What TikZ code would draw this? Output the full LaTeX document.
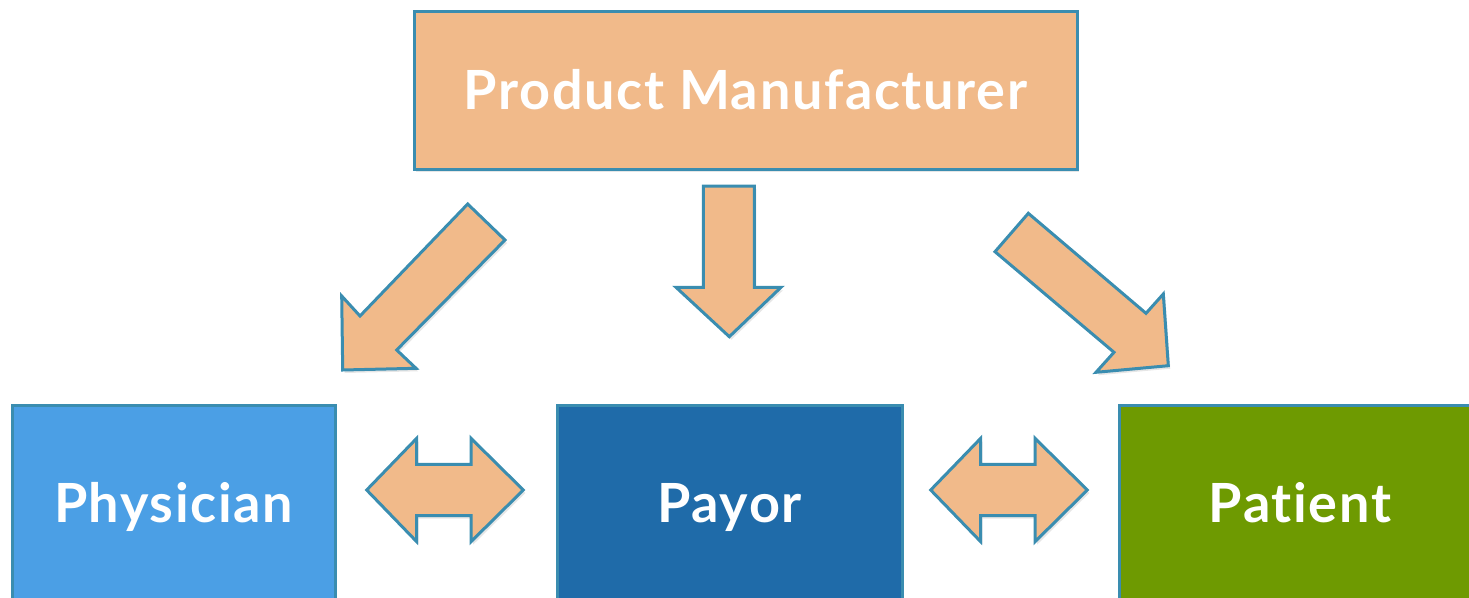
\documentclass[tikz,border=0pt]{standalone}
\usepackage{fontspec}
\newfontfamily\boxfont{Lato}[LetterSpace=3,Ligatures={NoCommon}]
\definecolor{peach}{RGB}{241,186,138}
\definecolor{edgeblue}{RGB}{58,141,176}
\definecolor{skyblue}{RGB}{75,159,229}
\definecolor{deepblue}{RGB}{31,107,169}
\definecolor{olivegreen}{RGB}{110,154,1}
\usetikzlibrary{shadows}

\begin{document}
\begin{tikzpicture}[x=1pt, y=-1pt,
    box/.style={draw=edgeblue, line width=3pt, text=white, inner sep=0pt,
      font=\boxfont\bfseries\fontsize{54}{60}\selectfont, text height=39pt, text depth=0pt,
      drop shadow={shadow xshift=2pt, shadow yshift=-3pt, opacity=0.2}},
    blockarrow/.style={draw=edgeblue, fill=peach, line width=3pt, line join=miter,
      drop shadow={shadow xshift=2pt, shadow yshift=-3pt, opacity=0.2}}]
    \useasboundingbox (0,0) rectangle (1469,597);
    % boxes
    \node[box, fill=peach, minimum width=663pt, minimum height=158pt] (maker) at (745.5,90) {Product Manufacturer};
    \node[box, fill=skyblue, minimum width=323pt, minimum height=196pt] (physician) at (173.5,503) {Physician};
    \node[box, fill=deepblue, minimum width=345pt, minimum height=196pt] (payor) at (729.5,503) {Payor};
    \node[box, fill=olivegreen, minimum width=362pt, minimum height=196pt] (patient) at (1300,503) {Patient};
    % arrows from the manufacturer
    \draw[blockarrow] (467.7,204) -- (505,240) -- (396.7,350) -- (416,368.3) -- (342.7,370) -- (341.7,296) -- (360,316) -- cycle;
    \draw[blockarrow] (703.3,186) -- (754.3,186) -- (754.3,287.3) -- (781,287.3) -- (729.3,336.7) -- (676,287.3) -- (703.3,287.3) -- cycle;
    \draw[blockarrow] (995,251.7) -- (1028.3,213.3) -- (1146,313.3) -- (1163.3,294) -- (1168.3,365.7) -- (1096,372.3) -- (1114,352.3) -- cycle;
    % two-way arrows between the boxes
    \foreach \dx in {0,564}
      \draw[blockarrow, xshift=\dx pt] (366.7,490) -- (416.7,438.3) -- (416.7,464.3) -- (471,464.3) -- (471,438.3) -- (523.3,490)
        -- (471,541.7) -- (471,515.7) -- (416.7,515.7) -- (416.7,541.7) -- cycle;
\end{tikzpicture}
\end{document}
